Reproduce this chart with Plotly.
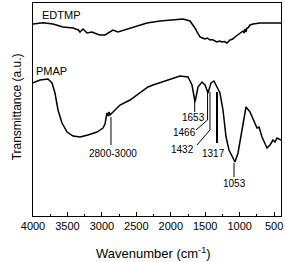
import plotly.graph_objects as go

# EDTMP spectrum (wavenumber, transmittance a.u.)
edtmp_wn = [4000, 3855, 3710, 3565, 3419, 3340, 3318, 3274, 3216, 3144, 3071, 3027, 2955, 2882, 2839, 2766,
            2635, 2490, 2345, 2156, 1823, 1721, 1677, 1640, 1619, 1590, 1576, 1540, 1503, 1470, 1431, 1400,
            1360, 1329, 1290, 1256, 1220, 1184, 1140, 1100, 1068, 1030, 995, 966, 952, 936, 922, 908, 894,
            879, 850, 807, 705, 550, 400]
edtmp_t = [192, 193.3, 192, 189, 188, 186, 184, 187, 183, 184, 182, 181, 181, 184, 186, 184,
           187, 190, 193, 195, 197, 195, 191, 187, 184, 181, 179, 178, 177, 178, 176, 176.5,
           175, 174, 175, 174, 174.5, 173, 176, 177, 179, 181, 183, 185, 185, 183, 187, 184, 188,
           188, 191, 192, 193, 193, 193]

# PMAP spectrum
pmap_wn = [4000, 3898, 3782, 3724, 3681, 3637, 3579, 3506, 3419, 3318, 3202, 3071, 2984, 2955, 2926,
           2911, 2897, 2882, 2853, 2810, 2737, 2592, 2447, 2331, 2258, 2055, 1866, 1750, 1692, 1648,
           1605, 1547, 1503, 1460, 1416, 1373, 1329, 1286, 1242, 1198, 1155, 1068, 1024, 966, 908,
           850, 777, 748, 719, 676, 603, 560, 516, 487, 458, 400]
pmap_t = [133.3, 136, 137, 133, 123, 106, 93, 84, 80, 79, 81, 84, 88, 92, 103,
          100, 104, 101, 103, 106, 111, 116, 123, 129, 131, 136, 140, 139, 131, 114,
          129, 134, 131, 123, 133, 135, 129, 123, 106, 79, 66, 54, 63, 86, 109,
          104, 93, 88, 89, 79, 68, 71, 76, 74, 78, 76]

# Peak annotations: label, leader polyline (wn, t), text position (wn, t)
peak_labels = ["2800-3000", "1653", "1466", "1432", "1317", "1053"]
leader_wn = [[2868, 2868], [1653, 1653], [1466, 1466, 1634], [1431, 1431, 1619], [1329, 1329], [1082, 1082]]
leader_t = [[99, 71], [114, 104], [126, 96, 86], [124, 86, 71], [124, 73], [53, 39]]
leader_w = [1, 1, 1, 1, 2, 1]
label_wn = [2839, 1677, 1808, 1823, 1373, 1082]
label_t = [63, 99, 84, 67, 63, 33]

series_names = ["EDTMP", "PMAP"]
series_label_wn = [3900, 3980]
series_label_t = [201, 145]

tick_vals = [4000, 3500, 3000, 2500, 2000, 1500, 1000, 500]
tick_text = ["4000", "3500", "3000", "2500", "2000", "1500", "1000", "500"]

fig = go.Figure()
fig.add_trace(go.Scatter(x=edtmp_wn, y=edtmp_t, mode="lines",
                         line=dict(color="black", width=1.5), showlegend=False))
fig.add_trace(go.Scatter(x=pmap_wn, y=pmap_t, mode="lines",
                         line=dict(color="black", width=1.5), showlegend=False))
for xs, ys, w in zip(leader_wn, leader_t, leader_w):
    fig.add_trace(go.Scatter(x=xs, y=ys, mode="lines",
                             line=dict(color="black", width=w), showlegend=False))

for lab, x, y in zip(peak_labels, label_wn, label_t):
    fig.add_annotation(x=x, y=y, text=lab, showarrow=False,
                       font=dict(size=10, color="black"), xanchor="center", yanchor="middle")
for lab, x, y in zip(series_names, series_label_wn, series_label_t):
    fig.add_annotation(x=x, y=y, text=lab, showarrow=False,
                       font=dict(size=11, color="black"), xanchor="left", yanchor="middle")

# axis titles
fig.add_annotation(xref="paper", yref="paper", x=0.484, y=0, yshift=-37,
                   text="Wavenumber (cm<sup>-1</sup>)", showarrow=False,
                   font=dict(size=13, color="black"), xanchor="center", yanchor="middle")
fig.add_annotation(xref="paper", yref="paper", x=0, y=0.51, xshift=-16,
                   text="Transmittance (a.u.)", showarrow=False, textangle=-90,
                   font=dict(size=12, color="black"), xanchor="center", yanchor="middle")

fig.update_layout(
    width=285, height=262,
    margin=dict(l=33, r=4, t=3, b=46, autoexpand=False),
    paper_bgcolor="white", plot_bgcolor="white",
    font=dict(family="Liberation Sans, Arial, sans-serif", color="black"),
    xaxis=dict(range=[4000, 400], tickmode="array", tickvals=tick_vals, ticktext=tick_text,
               ticks="inside", ticklen=4, tickwidth=1, tickcolor="black",
               minor=dict(dtick=250, tick0=0, ticks="inside", ticklen=2.5, tickcolor="black"),
               showline=True, linecolor="black", linewidth=1, mirror=True,
               showgrid=False, zeroline=False, tickfont=dict(size=11), automargin=False),
    yaxis=dict(range=[0, 213], showticklabels=False, ticks="",
               showline=True, linecolor="black", linewidth=1, mirror=True,
               showgrid=False, zeroline=False, automargin=False),
)

fig.write_html("out.html", config={"displayModeBar": False},
               post_script="document.body.style.margin='0';document.body.style.overflow='hidden';")
